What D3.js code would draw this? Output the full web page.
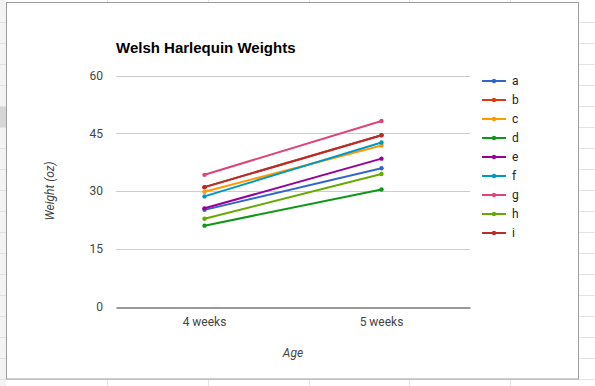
<!DOCTYPE html>
<html>
<head>
<meta charset="utf-8">
<script src="https://cdn.jsdelivr.net/npm/d3@7"></script>
<style>
  html, body { margin: 0; padding: 0; background: #fff; }
  svg { display: block; }
</style>
</head>
<body>
<svg id="chart" width="595" height="386"></svg>
<script>
// data
const ages = ["4 weeks", "5 weeks"];
const seriesNames = ["a", "b", "c", "d", "e", "f", "g", "h", "i"];
const weightsA = [25.1, 35.9];
const weightsB = [31.0, 44.5];
const weightsC = [29.8, 41.8];
const weightsD = [21.0, 30.4];
const weightsE = [25.5, 38.4];
const weightsF = [28.6, 42.6];
const weightsG = [34.2, 48.2];
const weightsH = [22.8, 34.4];
const weightsI = [31.0, 44.5];
const yTicks = [0, 15, 30, 45, 60];
const palette = ["#3366cc", "#dc3912", "#ff9900", "#109618", "#990099",
                 "#0099c6", "#dd4477", "#66aa00", "#b82e2e"];

const allWeights = [weightsA, weightsB, weightsC, weightsD, weightsE,
                    weightsF, weightsG, weightsH, weightsI];
const series = seriesNames.map((name, i) => ({ name, values: allWeights[i], color: palette[i] }));

const svg = d3.select("#chart");

// spreadsheet behind the chart
const bg = svg.append("g").attr("class", "sheet");
bg.append("rect").attr("x", 0).attr("y", 0).attr("width", 6).attr("height", 386).attr("fill", "#f3f3f3");
bg.append("rect").attr("x", 0).attr("y", 106).attr("width", 6).attr("height", 21).attr("fill", "#d6d6d6");
d3.range(1, 19).map(k => k * 21 + 1).forEach(y => {
  bg.append("line").attr("x1", 0).attr("x2", 595).attr("y1", y + 0.5).attr("y2", y + 0.5)
    .attr("stroke", "#e2e2e2");
});
[107, 208, 309, 409, 510].forEach(x => {
  bg.append("line").attr("x1", x + 0.5).attr("x2", x + 0.5).attr("y1", 0).attr("y2", 386)
    .attr("stroke", "#e2e2e2");
});

// chart panel
svg.append("rect")
  .attr("x", 6.5).attr("y", 2.5).attr("width", 572).attr("height", 376.5)
  .attr("fill", "#fff").attr("stroke", "#9e9e9e");

const plot = { left: 116, right: 470, top: 75.5, bottom: 306.5 };

const x = d3.scaleBand().domain(ages).range([plot.left, plot.right]);
const y = d3.scaleLinear().domain([0, 60]).range([plot.bottom, plot.top]);

// gridlines
svg.append("g")
  .selectAll("line")
  .data(yTicks.filter(t => t !== 0))
  .join("line")
  .attr("x1", plot.left).attr("x2", plot.right)
  .attr("y1", d => Math.round(y(d)) + 0.5).attr("y2", d => Math.round(y(d)) + 0.5)
  .attr("stroke", "#cccccc");

// y axis labels
const yAxis = svg.append("g")
  .attr("transform", `translate(${plot.left},0)`)
  .call(d3.axisLeft(y).tickValues(yTicks).tickSize(0).tickPadding(13).tickFormat(d3.format("d")));
yAxis.select(".domain").remove();
yAxis.selectAll("text")
  .attr("fill", "#444").attr("font-family", "Roboto, Arial, sans-serif").attr("font-size", 12);

// x axis
const xAxis = svg.append("g")
  .attr("transform", `translate(0,${Math.round(plot.bottom) + 0.5})`)
  .call(d3.axisBottom(x).tickSize(0).tickPadding(10));
xAxis.select(".domain").attr("stroke", "#333");
xAxis.selectAll("text")
  .attr("fill", "#444").attr("font-family", "Roboto, Arial, sans-serif").attr("font-size", 12);

// titles
svg.append("text")
  .attr("x", plot.left).attr("y", 53)
  .attr("font-family", "Arial, 'Liberation Sans', sans-serif")
  .attr("font-weight", "bold").attr("font-size", 15).attr("fill", "#000")
  .text("Welsh Harlequin Weights");

svg.append("text")
  .attr("x", (plot.left + plot.right) / 2).attr("y", 357)
  .attr("text-anchor", "middle")
  .attr("font-family", "Roboto, Arial, sans-serif").attr("font-style", "italic")
  .attr("font-size", 12).attr("fill", "#444")
  .text("Age");

svg.append("text")
  .attr("transform", `translate(54,${(plot.top + plot.bottom) / 2}) rotate(-90)`)
  .attr("text-anchor", "middle")
  .attr("font-family", "Roboto, Arial, sans-serif").attr("font-style", "italic")
  .attr("font-size", 12).attr("fill", "#444")
  .text("Weight (oz)");

// lines + dots
const line = d3.line()
  .x((d, i) => x(ages[i]) + x.bandwidth() / 2)
  .y(d => y(d));

const lines = svg.append("g")
  .selectAll("g")
  .data(series)
  .join("g");

lines.append("path")
  .attr("d", d => line(d.values))
  .attr("fill", "none")
  .attr("stroke", d => d.color)
  .attr("stroke-width", 2);

lines.selectAll("circle")
  .data(d => d.values.map((v, i) => ({ v, i, color: d.color })))
  .join("circle")
  .attr("cx", d => x(ages[d.i]) + x.bandwidth() / 2)
  .attr("cy", d => y(d.v))
  .attr("r", 2.2)
  .attr("fill", d => d.color);

// legend
const legend = svg.append("g")
  .selectAll("g")
  .data(series)
  .join("g")
  .attr("transform", (d, i) => `translate(482,${81 + i * 19})`);

legend.append("line")
  .attr("x1", 0).attr("x2", 24)
  .attr("stroke", d => d.color).attr("stroke-width", 2);
legend.append("circle")
  .attr("cx", 12).attr("r", 2.2).attr("fill", d => d.color);
legend.append("text")
  .attr("x", 30).attr("dy", "0.35em")
  .attr("font-family", "Roboto, Arial, sans-serif").attr("font-size", 12).attr("fill", "#222")
  .text(d => d.name);
</script>
</body>
</html>
